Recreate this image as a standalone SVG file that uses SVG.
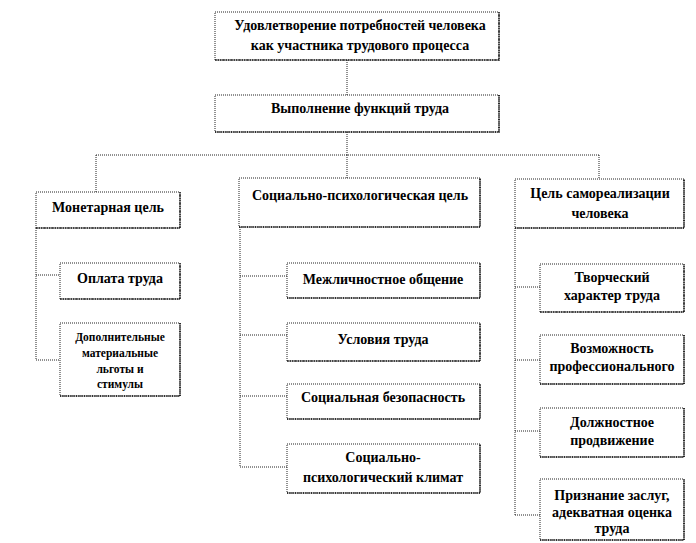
<svg xmlns="http://www.w3.org/2000/svg" width="696" height="543" viewBox="0 0 696 543">
<style>
.box{fill:#fff;stroke:#222;stroke-width:1;stroke-dasharray:1 1}
.sh{fill:none;stroke:#111;stroke-width:1.6;stroke-dasharray:1 0.6}
.c{fill:none;stroke:#222;stroke-width:1;stroke-dasharray:1 1}
text{font-weight:bold;font-size:14px;fill:#000;text-anchor:middle}
.s{font-size:11.5px}
</style>
<rect width="696" height="543" fill="#fff"/>
<g id="connectors">
<path class="c" d="M347 60V95M347 132V155M96 155H600M96 155V192M347 155V178M599 155V179"/>
<path class="c" d="M36 228V360M36 275H60M36 360H60"/>
<path class="c" d="M240 227V467M240 276H287M240 335H287M240 396H287M240 467H287"/>
<path class="c" d="M515 228V515M515 287H540M515 360H540M515 431H540M515 515H540"/>
</g>
<g font-family="Times New Roman, Liberation Serif, Tinos, DejaVu Serif, serif">
<g id="n_top"><rect class="box" x="215" y="12" width="284" height="48"/><path class="sh" d="M215 60H499V12"/><text x="360" y="30">Удовлетворение потребностей человека</text><text x="360" y="50">как участника трудового процесса</text></g>
<g id="n_func"><rect class="box" x="215" y="95" width="284" height="37"/><path class="sh" d="M215 132H499V95"/><text x="360" y="113">Выполнение  функций  труда</text></g>
<g id="n_money"><rect class="box" x="36" y="192" width="144" height="36"/><path class="sh" d="M36 228H180V192"/><text x="108" y="212">Монетарная цель</text></g>
<g id="n_pay"><rect class="box" x="60" y="263" width="120" height="36"/><path class="sh" d="M60 299H180V263"/><text x="120" y="283">Оплата труда</text></g>
<g id="n_extra"><rect class="box" x="60" y="323" width="120" height="73"/><path class="sh" d="M60 396H180V323"/><text class="s" x="120" y="341">Дополнительные</text><text class="s" x="120" y="357">материальные</text><text class="s" x="120" y="373">льготы и</text><text class="s" x="120" y="388">стимулы</text></g>
<g id="n_social"><rect class="box" x="239" y="178" width="241" height="49"/><path class="sh" d="M239 227H480V178"/><text x="360" y="200">Социально-психологическая цель</text></g>
<g id="n_inter"><rect class="box" x="287" y="263" width="193" height="35"/><path class="sh" d="M287 298H480V263"/><text x="383" y="284">Межличностное общение</text></g>
<g id="n_cond"><rect class="box" x="287" y="323" width="193" height="38"/><path class="sh" d="M287 361H480V323"/><text x="383" y="344">Условия труда</text></g>
<g id="n_safety"><rect class="box" x="287" y="384" width="193" height="35"/><path class="sh" d="M287 419H480V384"/><text x="383" y="402">Социальная безопасность</text></g>
<g id="n_climate"><rect class="box" x="287" y="444" width="193" height="49"/><path class="sh" d="M287 493H480V444"/><text x="383" y="462">Социально-</text><text x="383" y="482">психологический  климат</text></g>
<g id="n_self"><rect class="box" x="515" y="179" width="169" height="49"/><path class="sh" d="M515 228H684V179"/><text x="600" y="198">Цель самореализации</text><text x="600" y="218">человека</text></g>
<g id="n_creative"><rect class="box" x="540" y="264" width="144" height="48"/><path class="sh" d="M540 312H684V264"/><text x="612" y="282">Творческий</text><text x="612" y="300">характер труда</text></g>
<g id="n_prof"><rect class="box" x="540" y="335" width="144" height="49"/><path class="sh" d="M540 384H684V335"/><text x="612" y="353">Возможность</text><text x="612" y="371">профессионального</text></g>
<g id="n_career"><rect class="box" x="540" y="408" width="144" height="49"/><path class="sh" d="M540 457H684V408"/><text x="612" y="427">Должностное</text><text x="612" y="445">продвижение</text></g>
<g id="n_merit"><rect class="box" x="540" y="479" width="144" height="61"/><path class="sh" d="M540 540H684V479"/><text x="612" y="500">Признание  заслуг,</text><text x="612" y="517">адекватная оценка</text><text x="612" y="533">труда</text></g>
</g>
</svg>
